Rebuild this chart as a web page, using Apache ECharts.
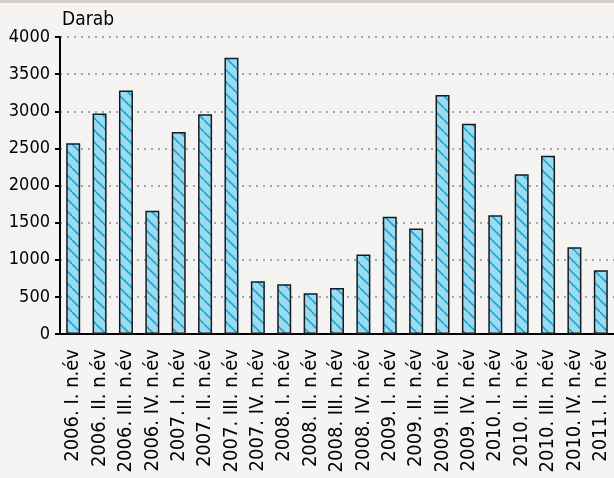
<!DOCTYPE html>
<html lang="hu">
<head>
  <meta charset="UTF-8">
  <title>echarts</title>
  <script src="https://cdn.jsdelivr.net/npm/echarts@6/dist/echarts.min.js"></script>
  <style>
    html, body { margin: 0; padding: 0; background: #f5f4f2; }
    #chart { width: 614px; height: 478px; }
  </style>
</head>
<body>
  <div id="chart"></div>
  <script>
    const categories = [
      '2006. I. n.év', '2006. II. n.év', '2006. III. n.év', '2006. IV. n.év',
      '2007. I. n.év', '2007. II. n.év', '2007. III. n.év', '2007. IV. n.év',
      '2008. I. n.év', '2008. II. n.év', '2008. III. n.év', '2008. IV. n.év',
      '2009. I. n.év', '2009. II. n.év', '2009. III. n.év', '2009. IV. n.év',
      '2010. I. n.év', '2010. II. n.év', '2010. III. n.év', '2010. IV. n.év',
      '2011. I. n.év'
    ]
    const darab = [
      2570, 2970, 3280, 1660,
      2720, 2960, 3720, 710,
      670, 550, 620, 1070,
      1580, 1420, 3220, 2830,
      1600, 2150, 2400, 1170,
      860
    ]
    const yTicks = [0, 500, 1000, 1500, 2000, 2500, 3000, 3500, 4000]

    // csíkos kitöltés az oszlopokhoz
    const tile = document.createElement('canvas')
    tile.width = 12
    tile.height = 12
    const ctx = tile.getContext('2d')
    ctx.fillStyle = '#9bdbf0'
    ctx.fillRect(0, 0, 12, 12)
    ctx.strokeStyle = '#16a6dc'
    ctx.lineWidth = 1.6
    for (const k of [-12, 0, 12]) {
      ctx.beginPath()
      ctx.moveTo(k, 0)
      ctx.lineTo(k + 12, 12)
      ctx.stroke()
    }

    const font = '"DejaVu Sans Condensed", "DejaVu Sans", sans-serif'
    const chart = echarts.init(document.getElementById('chart'))
    chart.setOption({
      backgroundColor: '#f5f4f2',
      animation: false,
      graphic: [{
        type: 'rect',
        shape: { x: 0, y: 0, width: 614, height: 3 },
        style: { fill: '#d6d0cb' }
      }],
      grid: { left: 60, right: 0, top: 37, bottom: 144 },
      xAxis: {
        type: 'category',
        data: categories,
        axisLine: { lineStyle: { color: '#000', width: 2 } },
        axisTick: { length: 5, lineStyle: { color: '#000', width: 2 } },
        axisLabel: {
          rotate: 90,
          interval: 0,
          margin: 15,
          color: '#000',
          fontFamily: font,
          fontSize: 20
        }
      },
      yAxis: {
        type: 'value',
        min: yTicks[0],
        max: yTicks[yTicks.length - 1],
        interval: 500,
        name: 'Darab',
        nameLocation: 'end',
        nameGap: 17,
        nameTextStyle: {
          color: '#000', fontFamily: font, fontSize: 19,
          align: 'left', verticalAlign: 'middle', padding: [0, 0, 0, 2]
        },
        axisLine: { show: true, lineStyle: { color: '#000', width: 2 } },
        axisTick: { show: true, length: 5, lineStyle: { color: '#000', width: 2 } },
        axisLabel: {
          color: '#000', fontFamily: font, fontSize: 18, margin: 10,
          formatter: v => String(v)
        },
        splitLine: {
          lineStyle: { color: '#a6a6a6', width: 2, type: [2, 5] }
        }
      },
      series: [{
        type: 'bar',
        data: darab,
        barWidth: 14,
        itemStyle: {
          color: { image: tile, repeat: 'repeat' },
          borderColor: '#1a1a1a',
          borderWidth: 1.5
        }
      }]
    })
  </script>
</body>
</html>
